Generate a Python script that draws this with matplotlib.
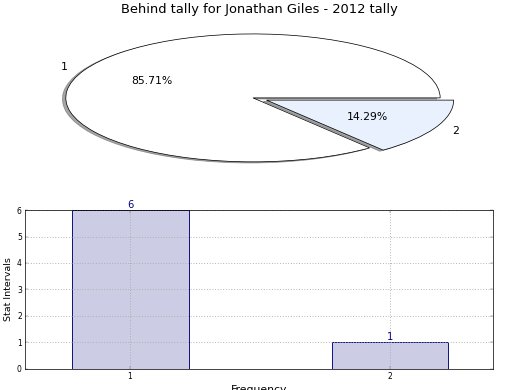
import matplotlib
matplotlib.use("Agg")
import matplotlib.pyplot as plt

# data
slice_labels = ["1", "2"]
slice_counts = [6, 1]
bar_positions = [1, 2]
bar_heights = [6, 1]
bar_tick_labels = ["1", "2"]

fig = plt.figure(figsize=(8, 6), dpi=65)

# pie on top
ax1 = fig.add_axes([0.048, 0.544, 0.9, 0.41])
wedges, texts, autotexts = ax1.pie(
    slice_counts, labels=slice_labels, explode=[0, 0.08],
    colors=["white", "#eaf1fe"], autopct="%1.2f%%", shadow=True,
    startangle=0, wedgeprops=dict(edgecolor="black", linewidth=0.8),
    textprops=dict(fontsize=12),
)
ax1.set_aspect("auto")
ax1.set_xlim(-1.218, 1.282)
ax1.set_ylim(-1.25, 1.25)
ax1.set_title("Behind tally for Jonathan Giles - 2012 tally", fontsize=14.4)

# bar chart below
ax2 = fig.add_axes([0.048, 0.054, 0.9, 0.4075])
bars = ax2.bar(bar_positions, bar_heights, width=0.45, align="center",
               color="#ccccE4", edgecolor="#000080", linewidth=1)
for b, h in zip(bars, bar_heights):
    ax2.text(b.get_x() + b.get_width() / 2, h, str(h), ha="center",
             va="bottom", color="#000080", fontsize=11)
ax2.set_xlim(0.596, 2.396)
ax2.set_ylim(0, 6)
ax2.set_xticks(bar_positions)
ax2.set_xticklabels(bar_tick_labels)
ax2.set_yticks(range(0, 7))
ax2.tick_params(labelsize=8.5, direction="in", top=True, right=True,
                length=3, width=0.5, colors="#666666", labelcolor="black")
ax2.grid(True, linestyle=(0, (1, 2)), color="#aaaaaa", linewidth=1)
ax2.set_ylabel("Stat Intervals", fontsize=10.5)
ax2.set_xlabel("Frequency", fontsize=12)

fig.savefig("out.png", dpi=65)
